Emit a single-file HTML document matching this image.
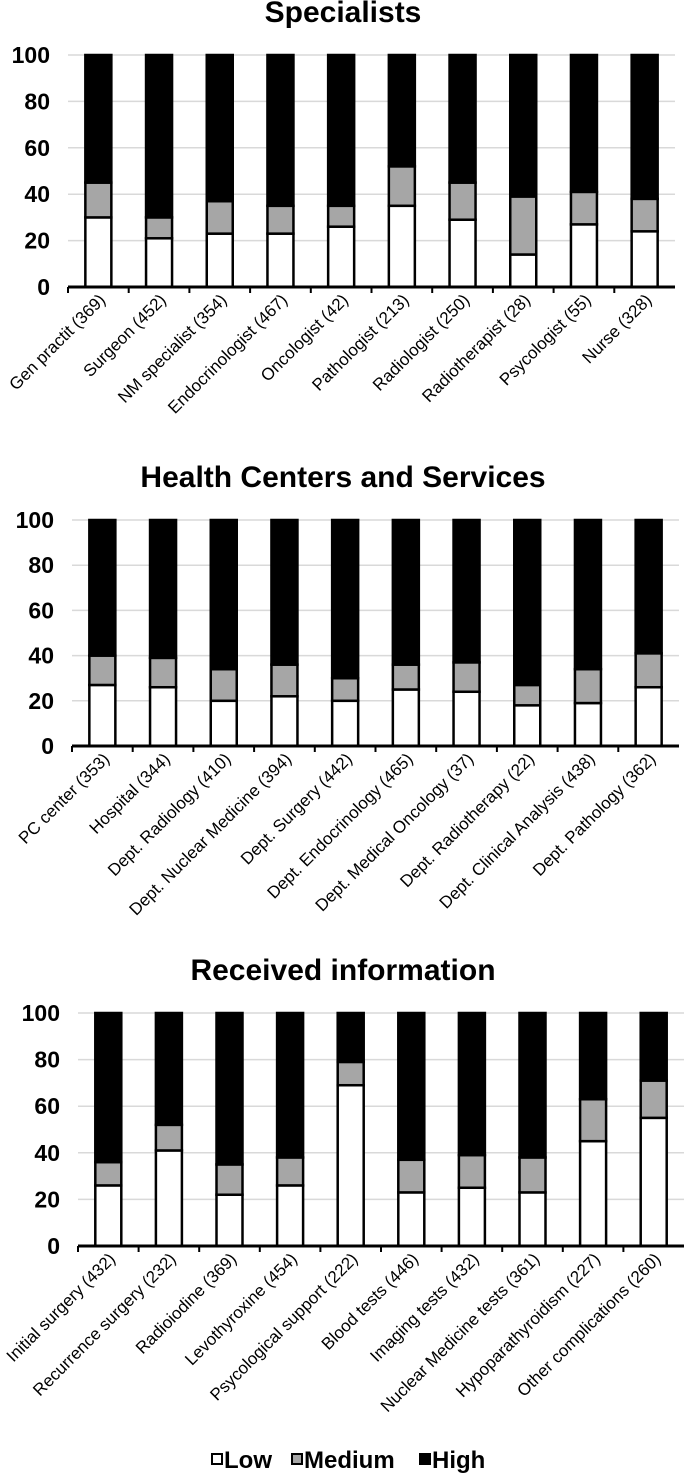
<!DOCTYPE html>
<html><head><meta charset="utf-8"><style>
html,body{margin:0;padding:0;background:#fff;}
svg{display:block;font-family:"Liberation Sans",Arial,sans-serif;}
</style></head><body>
<svg id="c" width="685" height="1473" viewBox="0 0 685 1473"></svg>
<script>
const cats1=["Gen practit (369)","Surgeon (452)","NM specialist (354)","Endocrinologist (467)","Oncologist (42)","Pathologist (213)","Radiologist (250)","Radiotherapist (28)","Psycologist (55)","Nurse (328)"];
const low1=[30,21,23,23,26,35,29,14,27,24];
const med1=[15,9,14,12,9,17,16,25,14,14];
const cats2=["PC center (353)","Hospital (344)","Dept. Radiology (410)","Dept. Nuclear Medicine (394)","Dept. Surgery (442)","Dept. Endocrinology (465)","Dept. Medical Oncology (37)","Dept. Radiotherapy (22)","Dept. Clinical Analysis (438)","Dept. Pathology (362)"];
const low2=[27,26,20,22,20,25,24,18,19,26];
const med2=[13,13,14,14,10,11,13,9,15,15];
const cats3=["Initial surgery (432)","Recurrence surgery (232)","Radioiodine (369)","Levothyroxine (454)","Psycological support (222)","Blood tests (446)","Imaging tests (432)","Nuclear Medicine tests (361)","Hypoparathyroidism (227)","Other complications (260)"];
const low3=[26,41,22,26,69,23,25,23,45,55];
const med3=[10,11,13,12,10,14,14,15,18,16];
const ticks=[0,20,40,60,80,100];
const titles=["Specialists","Health Centers and Services","Received information"];

const NS="http://www.w3.org/2000/svg";
const svg=document.getElementById('c');
function mk(t,a,p){const e=document.createElementNS(NS,t);for(const k in a)e.setAttribute(k,a[k]);(p||svg).appendChild(e);return e;}

function chart(idx,title,cats,low,med,x0,x1,yTop,yBot,titleY){
  const g=mk('g',{});
  
  
  const t=mk('text',{x:343,y:titleY,'text-anchor':'middle','font-size':30,'font-weight':'bold'},g);
  t.textContent=title;
  
  
  const ys=v=>yBot-(v/100)*(yBot-yTop);
  const n=cats.length, cw=(x1-x0)/n, bw=26;
  ticks.forEach(v=>{
    if(v>0){const l=mk('line',{x1:x0,x2:x1,y1:ys(v),y2:ys(v),stroke:'#d9d9d9','stroke-width':1.5},g);
      
      }
    const tl=mk('text',{x:x0-18,y:ys(v)+8,'text-anchor':'end','font-size':23,'font-weight':'bold'},g);
    tl.textContent=v;
    
    
  });
  cats.forEach((c,i)=>{
    const cx=x0+cw*(i+0.5), bx=cx-bw/2;
    const segs=[[0,low[i],'#fff','low'],[low[i],low[i]+med[i],'#a6a6a6','medium'],[low[i]+med[i],100,'#000','high']];
    segs.forEach(s=>{
      const r=mk('rect',{x:bx,y:ys(s[1]),width:bw,height:ys(s[0])-ys(s[1]),fill:s[2],stroke:'#000','stroke-width':2.5},g);
      
      
    });
    const tk=mk('line',{x1:x0+cw*i,x2:x0+cw*i,y1:yBot,y2:yBot+6,stroke:'#000','stroke-width':2},g);
    
    
    const lx=cx+8, ly=yBot+14;
    const lb=mk('text',{x:lx,y:ly,'text-anchor':'end','font-size':17,transform:`rotate(-45 ${lx} ${ly})`},g);
    lb.textContent=c;
    
    
  });
  const ax=mk('line',{x1:x0,x2:x1,y1:yBot,y2:yBot,stroke:'#000','stroke-width':3},g);
  
  
}
chart(0,titles[0],cats1,low1,med1,68,675,55,287,22);
chart(1,titles[1],cats2,low2,med2,72,679,520,746,487);
chart(2,titles[2],cats3,low3,med3,78,684,1013,1246,980);

const leg=[["Low","#fff",212],["Medium","#a6a6a6",292],["High","#000",420]];
leg.forEach(l=>{
  const r=mk('rect',{x:l[2],y:1454,width:10,height:10,fill:l[1],stroke:'#000','stroke-width':2});
  
  
  const t=mk('text',{x:l[2]+12,y:1468,'font-size':24,'font-weight':'bold'});
  t.textContent=l[0];
  
  
});
</script>
</body></html>
